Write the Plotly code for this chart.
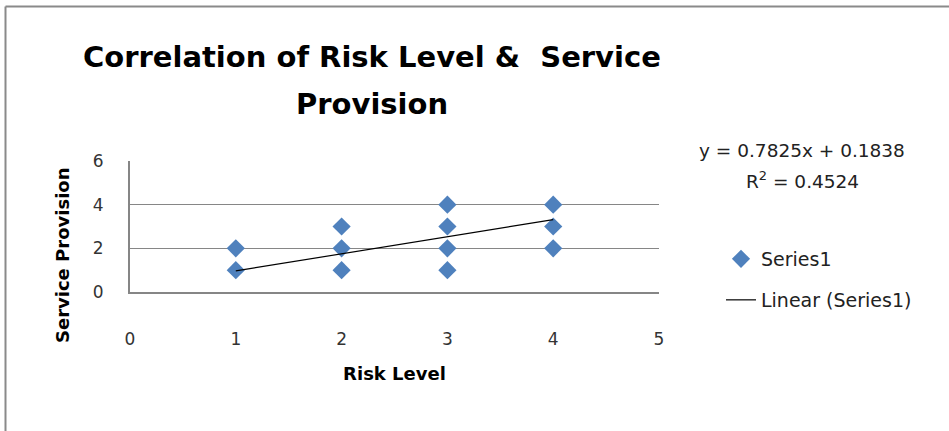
import plotly.graph_objects as go

# Data
risk_level = [1, 1, 2, 2, 2, 3, 3, 3, 3, 4, 4, 4]
service_provision = [1, 2, 1, 2, 3, 1, 2, 3, 4, 2, 3, 4]
trend_slope = 0.7825
trend_intercept = 0.1838
r_squared = 0.4524
x_ticks = [0, 1, 2, 3, 4, 5]
y_ticks = [0, 2, 4, 6]

W, H = 949, 431
L, R, T, B = 130, 659, 161, 292  # plot area pixels
pw, ph = R - L, B - T


def px(x):
    return (x - L) / pw


def py(y):
    return (B - y) / ph


FONT = "DejaVu Sans"
BLUE = "#4F81BD"
GRID = "#868686"

trend_x = [min(risk_level), max(risk_level)]
trend_y = [trend_slope * v + trend_intercept for v in trend_x]

fig = go.Figure()
fig.add_trace(go.Scatter(
    x=risk_level, y=service_provision, mode="markers", name="Series1",
    marker=dict(symbol="diamond", size=14, color=BLUE, line=dict(width=0)),
    legend="legend",
))
fig.add_trace(go.Scatter(
    x=trend_x, y=trend_y, mode="lines", name="Linear (Series1)",
    line=dict(color="black", width=1.2), legend="legend2",
))

fig.update_layout(
    width=W, height=H,
    margin=dict(l=L, r=W - R, t=T, b=H - B, pad=0),
    paper_bgcolor="white", plot_bgcolor="white",
    font=dict(family=FONT, color="#222222", size=16),
    showlegend=True,
    legend=dict(x=px(721), y=py(259), xanchor="left", yanchor="middle",
                font=dict(size=19, family=FONT, color="#222"), bgcolor="rgba(0,0,0,0)",
                itemwidth=30),
    legend2=dict(x=px(721), y=py(300), xanchor="left", yanchor="middle",
                 font=dict(size=19, family=FONT, color="#222"), bgcolor="rgba(0,0,0,0)",
                 itemwidth=30),
    xaxis=dict(range=[0, 5], tickvals=x_ticks, showgrid=False, zeroline=False,
               showline=True, linecolor=GRID, linewidth=2,
               ticks="", ticklabelstandoff=31,
               tickfont=dict(size=17, family=FONT, color="#333"),
               title=dict(text="<b>Risk Level</b>", font=dict(size=18, family=FONT, color="#000"),
                          standoff=19)),
    yaxis=dict(range=[0, 6], tickvals=y_ticks, showgrid=True, gridcolor=GRID, gridwidth=1.3,
               zeroline=False, showline=True, linecolor=GRID, linewidth=2,
               ticks="", ticklabelstandoff=21,
               tickfont=dict(size=17, family=FONT, color="#333")),
)

# Y axis title placed like the reference (centered lower than the plot middle)
fig.add_annotation(xref="paper", yref="paper", x=px(62), y=py(255), xanchor="center",
                   yanchor="middle", showarrow=False, textangle=-90,
                   text="<b>Service Provision</b>",
                   font=dict(size=18, family=FONT, color="#000"))

# Title as two lines placed like the reference
fig.add_annotation(xref="paper", yref="paper", x=px(372), y=py(57), xanchor="center",
                   yanchor="middle", showarrow=False,
                   text="<b>Correlation of Risk Level &amp;  Service</b>",
                   font=dict(size=29, family=FONT, color="#000"))
fig.add_annotation(xref="paper", yref="paper", x=px(372), y=py(104), xanchor="center",
                   yanchor="middle", showarrow=False, text="<b>Provision</b>",
                   font=dict(size=29, family=FONT, color="#000"))

# Trendline equation
fig.add_annotation(xref="paper", yref="paper", x=px(802), y=py(150), xanchor="center",
                   yanchor="middle", showarrow=False,
                   text=f"y = {trend_slope}x + {trend_intercept}",
                   font=dict(size=18.5, family=FONT, color="#222"))
fig.add_annotation(xref="paper", yref="paper", x=px(802), y=py(180), xanchor="center",
                   yanchor="middle", showarrow=False,
                   text=f"R<sup>2</sup> = {r_squared}",
                   font=dict(size=18.5, family=FONT, color="#222"))

# Outer chart border (top and left visible)
fig.add_shape(type="line", xref="paper", yref="paper", x0=px(5.5), x1=px(960),
              y0=py(6.5), y1=py(6.5), line=dict(color="#8a8a8a", width=2))
fig.add_shape(type="line", xref="paper", yref="paper", x0=px(5.5), x1=px(5.5),
              y0=py(6.5), y1=py(440), line=dict(color="#8a8a8a", width=2))

fig.write_html("out.html")
